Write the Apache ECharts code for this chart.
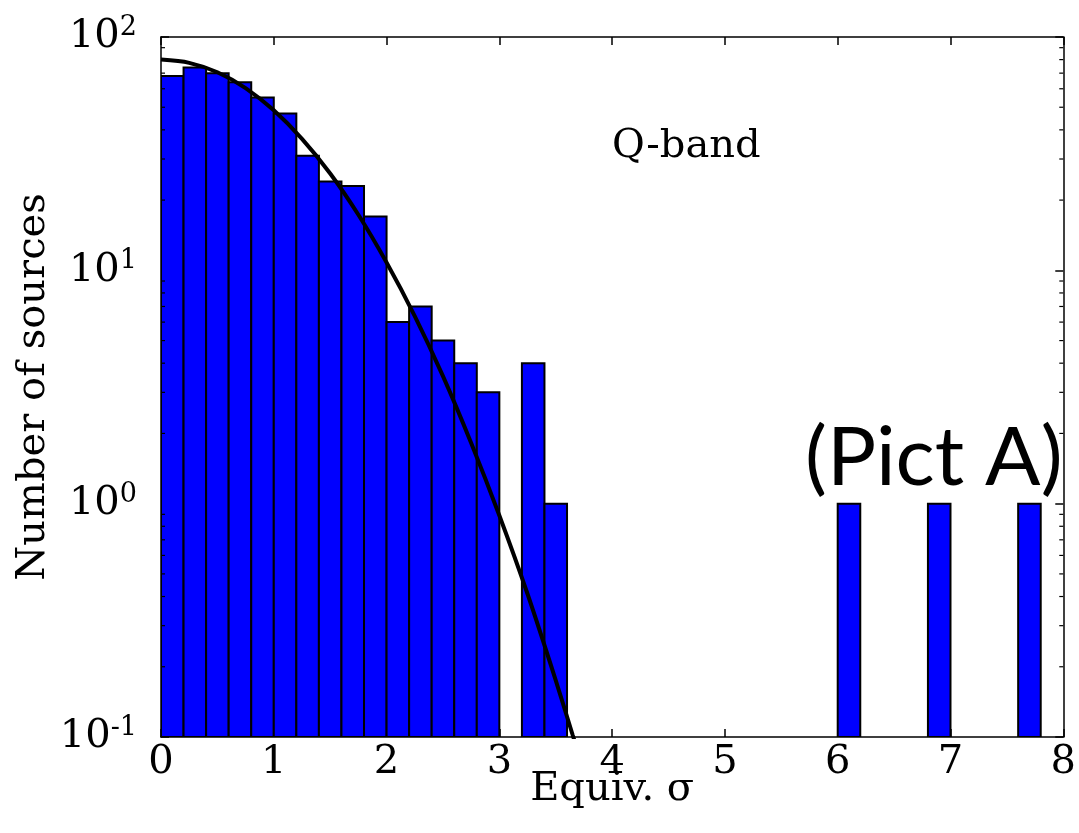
<!DOCTYPE html>
<html>
<head>
<meta charset="utf-8">
<script src="https://cdn.jsdelivr.net/npm/echarts@6/dist/echarts.min.js"></script>
<style>html,body{margin:0;padding:0;background:#fff;}#c{width:1079px;height:833px;}</style>
</head>
<body>
<div id="c"></div>
<script>
// Histogram bins (left edges, width 0.2) and counts
const binLeft = [0.0, 0.2, 0.4, 0.6, 0.8, 1.0, 1.2, 1.4, 1.6, 1.8, 2.0, 2.2, 2.4, 2.6, 2.8, 3.2, 3.4, 6.0, 6.8, 7.6];
const counts  = [68, 74, 70, 64, 55, 47, 31, 24, 23, 17, 6, 7, 5, 4, 3, 4, 1, 1, 1, 1];
const binWidth = 0.2;

// Fitted curve
const curveX = [0, 0.25, 0.5, 0.75, 1.0, 1.25, 1.5, 1.75, 2.0, 2.25, 2.5, 2.75, 3.0, 3.25, 3.5, 3.65, 3.75];
const curveY = [80, 77.5, 70.6, 60.4, 48.5, 36.6, 26.0, 17.3, 10.8, 6.37, 3.52, 1.82, 0.89, 0.41, 0.175, 0.102, 0.072];

// Axis ticks
const xTicks = [0, 1, 2, 3, 4, 5, 6, 7, 8];
const yMajor = [0.1, 1, 10, 100];
const yMinor = [0.2,0.3,0.4,0.5,0.6,0.7,0.8,0.9, 2,3,4,5,6,7,8,9, 20,30,40,50,60,70,80,90];
const supLabels = {'0.1': '-1', '1': '0', '10': '1', '100': '2'};

const FONT = 'DejaVu Serif';
const chart = echarts.init(document.getElementById('c'), null, {renderer: 'canvas'});

const barData = binLeft.map((x, i) => [x, x + binWidth, counts[i]]);
const lineData = curveX.map((x, i) => [x, curveY[i]]);

const axisLineStyle = {show: true, onZero: false, lineStyle: {color: '#000', width: 1.5}};
const tickStyle = {show: true, inside: true, length: 8, lineStyle: {color: '#000', width: 1.5}};

const option = {
  animation: false,
  backgroundColor: '#fff',
  grid: {left: 161, right: 14, top: 37, bottom: 96, containLabel: false},
  xAxis: [{
    type: 'value', min: xTicks[0], max: xTicks[xTicks.length-1], interval: 1,
    position: 'bottom',
    name: 'Equiv. σ', nameLocation: 'middle', nameGap: 33, nameMoveOverlap: false,
    nameTextStyle: {fontFamily: FONT, fontSize: 40, color: '#000', verticalAlign: 'top'},
    axisLine: axisLineStyle,
    axisTick: tickStyle,
    axisLabel: {fontFamily: FONT, fontSize: 40, color: '#000', margin: 6, showMaxLabel: true, showMinLabel: true},
    splitLine: {show: false}
  }, {
    type: 'value', min: xTicks[0], max: xTicks[xTicks.length-1], interval: 1,
    position: 'top',
    axisLine: axisLineStyle,
    axisTick: tickStyle,
    axisLabel: {show: false},
    splitLine: {show: false}
  }],
  yAxis: [{
    type: 'log', logBase: 10, min: yMajor[0], max: yMajor[yMajor.length-1],
    position: 'left',
    name: 'Number of sources', nameLocation: 'middle', nameGap: 107, nameMoveOverlap: false,
    nameTextStyle: {fontFamily: FONT, fontSize: 40, color: '#000'},
    axisLine: axisLineStyle,
    axisTick: tickStyle,
    axisLabel: {
      margin: 24,
      formatter: function (v) { return '{b|10}{s|' + supLabels[String(+v.toPrecision(3))] + '}'; },
      rich: {
        b: {fontFamily: FONT, fontSize: 40, color: '#000'},
        s: {fontFamily: FONT, fontSize: 27, color: '#000', verticalAlign: 'top', padding: [0, 0, 18, 0]}
      }
    },
    splitLine: {show: false}
  }, {
    type: 'log', logBase: 10, min: yMajor[0], max: yMajor[yMajor.length-1],
    position: 'right',
    axisLine: axisLineStyle,
    axisTick: tickStyle,
    axisLabel: {show: false},
    splitLine: {show: false}
  }],
  series: [{
    type: 'custom',
    name: 'hist',
    xAxisIndex: 0, yAxisIndex: 0,
    data: barData,
    encode: {x: [0, 1], y: 2},
    clip: true,
    z: 2,
    renderItem: function (params, api) {
      const p0 = api.coord([api.value(0), api.value(2)]);
      const p1 = api.coord([api.value(1), yMajor[0]]);
      return {
        type: 'rect',
        shape: {x: p0[0], y: p0[1], width: p1[0] - p0[0], height: p1[1] - p0[1]},
        style: {fill: '#0000ff', stroke: '#000', lineWidth: 2}
      };
    }
  }, {
    type: 'line',
    name: 'fit',
    xAxisIndex: 0, yAxisIndex: 0,
    data: lineData,
    smooth: 0.3,
    showSymbol: false,
    symbol: 'none',
    clip: true,
    z: 3,
    lineStyle: {color: '#000', width: 4}
  }, {
    type: 'custom',
    name: 'minorTicks',
    xAxisIndex: 0, yAxisIndex: 0,
    data: yMinor.map(v => [v]),
    encode: {y: 0},
    z: 4,
    renderItem: function (params, api) {
      const v = api.value(0);
      const l = api.coord([xTicks[0], v]);
      const r = api.coord([xTicks[xTicks.length-1], v]);
      return {
        type: 'group',
        children: [
          {type: 'line', shape: {x1: l[0], y1: l[1], x2: l[0] + 4, y2: l[1]}, style: {stroke: '#000', lineWidth: 1.2}},
          {type: 'line', shape: {x1: r[0], y1: r[1], x2: r[0] - 4, y2: r[1]}, style: {stroke: '#000', lineWidth: 1.2}}
        ]
      };
    }
  }],
  graphic: [{
    type: 'text', left: 612, top: 127, z: 10,
    style: {text: 'Q-band', font: '40px "DejaVu Serif"', fill: '#000'}
  }, {
    type: 'text', left: 805, top: 418, z: 10,
    style: {text: '(Pict A)', font: '82px Lato', fill: '#000'}
  }]
};
chart.setOption(option);
</script>
</body>
</html>
